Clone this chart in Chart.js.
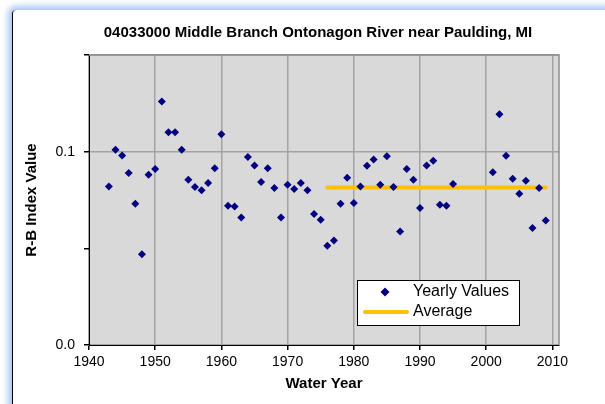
<!DOCTYPE html>
<html>
<head>
<meta charset="utf-8">
<script src="https://cdn.jsdelivr.net/npm/chart.js@4.4.1/dist/chart.umd.min.js"></script>
<style>
  html, body { margin: 0; padding: 0; background: #fff; overflow: hidden; }
  #frame {
    position: absolute; left: 12px; top: 10px; width: 640px; height: 440px;
    background: #fff; border-left: 1.5px solid #000; border-top-left-radius: 4px;
    box-shadow: 0 0 6px 4px #a9c6f3;
  }
  #wrap { position: absolute; left: 0; top: 0; width: 605px; height: 404px; }
</style>
</head>
<body>
<div id="frame"></div>
<div id="wrap"><canvas id="myChart" width="605" height="404"></canvas></div>
<script>
// yearly R-B index values
const years = [1943, 1944, 1945, 1946, 1947, 1948, 1949, 1950, 1951, 1952, 1953, 1954, 1955, 1956, 1957, 1958, 1959,
  1960, 1961, 1962, 1963, 1964, 1965, 1966, 1967, 1968, 1969, 1970, 1971, 1972, 1973, 1974, 1975, 1976, 1977, 1978,
  1979, 1980, 1981, 1982, 1983, 1984, 1985, 1986, 1987, 1988, 1989, 1990, 1991, 1992, 1993, 1994, 1995,
  2001, 2002, 2003, 2004, 2005, 2006, 2007, 2008, 2009];
const rbValues = [0.082, 0.101, 0.098, 0.089, 0.073, 0.047, 0.088, 0.091, 0.126, 0.110, 0.110, 0.101, 0.0855, 0.0817, 0.080, 0.0838, 0.0914,
  0.109, 0.072, 0.0717, 0.066, 0.0972, 0.0929, 0.0843, 0.0914, 0.0812, 0.066, 0.0829, 0.0807, 0.0838, 0.080, 0.0677, 0.0648, 0.0513, 0.054, 0.0731,
  0.0865, 0.0734, 0.082, 0.0927, 0.0959, 0.0829, 0.0976, 0.0817, 0.0587, 0.091, 0.0855, 0.0708, 0.0929, 0.0953, 0.0725, 0.072, 0.0833,
  0.0893, 0.1193, 0.0979, 0.086, 0.0782, 0.085, 0.0605, 0.0812, 0.0644];
const avgYears = [1976, 2009];
const avgValue = 0.0815;

const titleText = "04033000 Middle Branch Ontonagon River near Paulding, MI";
const seriesNames = ["Yearly Values", "Average"];
const xTicks = [1940, 1950, 1960, 1970, 1980, 1990, 2000, 2010];
const yTickLabels = { 0: "0.0", 0.1: "0.1" };

const FONT = "'Liberation Sans', Arial, sans-serif";
const NAVY = "#000080";
const GOLD = "#FFC000";
const GRID = "#a3a3a3";

const yearly = years.map((y, i) => ({ x: y, y: rbValues[i] }));
const average = avgYears.map((y) => ({ x: y, y: avgValue }));

// grey plot area, top/right frame, title and legend box
const decor = {
  id: "decor",
  beforeDraw(chart) {
    const { ctx, chartArea: a } = chart;
    ctx.save();
    ctx.fillStyle = "#d9d9d9";
    ctx.fillRect(a.left, a.top, a.right - a.left, a.bottom - a.top);
    ctx.restore();
  },
  afterDatasetsDraw(chart) {
    const { ctx, chartArea: a } = chart;
    ctx.save();
    ctx.strokeStyle = "#8c8c8c";
    ctx.lineWidth = 1.5;
    ctx.beginPath();
    ctx.moveTo(a.left, a.top);
    ctx.lineTo(a.right, a.top);
    ctx.lineTo(a.right, a.bottom);
    ctx.stroke();
    ctx.restore();
  },
  afterDraw(chart) {
    const ctx = chart.ctx;
    ctx.save();
    // title
    ctx.fillStyle = "#000";
    ctx.font = "bold 15px " + FONT;
    ctx.textAlign = "center";
    ctx.textBaseline = "middle";
    ctx.fillText(titleText, 318, 33);

    // legend
    const lx = 357, ly = 280, lw = 162, lh = 45;
    ctx.fillStyle = "#fff";
    ctx.fillRect(lx, ly, lw, lh);
    ctx.strokeStyle = "#000";
    ctx.lineWidth = 1;
    ctx.strokeRect(lx + 0.5, ly + 0.5, lw, lh);

    Chart.helpers.drawPoint(ctx, { pointStyle: "rectRot", radius: 4.5, borderWidth: 0 }, lx + 28, ly + 12);
    ctx.fillStyle = NAVY;
    ctx.fill();

    ctx.strokeStyle = GOLD;
    ctx.lineWidth = 4;
    ctx.lineCap = "round";
    ctx.beginPath();
    ctx.moveTo(lx + 8, ly + 32);
    ctx.lineTo(lx + 50, ly + 32);
    ctx.stroke();

    ctx.fillStyle = "#000";
    ctx.font = "16px " + FONT;
    ctx.textAlign = "left";
    ctx.fillText(seriesNames[0], lx + 56, ly + 12);
    ctx.fillText(seriesNames[1], lx + 56, ly + 32);
    ctx.restore();
  }
};

const config = {
  type: "scatter",
  data: {
    datasets: [
      {
        label: seriesNames[0],
        data: yearly,
        pointStyle: "rectRot",
        pointRadius: 4,
        pointBorderWidth: 0,
        backgroundColor: NAVY,
        borderColor: NAVY,
        order: 1
      },
      {
        label: seriesNames[1],
        data: average,
        showLine: true,
        pointRadius: 0,
        borderColor: GOLD,
        borderWidth: 4,
        borderCapStyle: "round",
        order: 2
      }
    ]
  },
  options: {
    responsive: false,
    animation: false,
    layout: { padding: { top: 55, right: 46, bottom: 8, left: 20 } },
    plugins: {
      legend: { display: false },
      title: { display: false },
      tooltip: { enabled: false }
    },
    scales: {
      x: {
        type: "linear",
        min: 1940,
        max: 2011,
        afterFit: (scale) => { scale.height = 51; },
        afterBuildTicks: (scale) => { scale.ticks = xTicks.map((v) => ({ value: v })); },
        ticks: {
          stepSize: 10,
          includeBounds: false,
          color: "#000",
          padding: 4,
          font: { family: FONT, size: 14 },
          maxRotation: 0,
          callback: (v) => String(v)
        },
        grid: { color: GRID, lineWidth: 1.5, tickColor: "#000", tickLength: 5 },
        border: { color: "#000", width: 1 },
        title: {
          display: true,
          text: "Water Year",
          color: "#000",
          font: { family: FONT, size: 15, weight: "bold" },
          padding: { top: 0, bottom: 3 }
        }
      },
      y: {
        min: 0,
        max: 0.15,
        afterFit: (scale) => { scale.width = 69; },
        ticks: {
          stepSize: 0.05,
          color: "#000",
          padding: 9,
          font: { family: FONT, size: 14 },
          callback: (v) => {
            if (Math.abs(v) < 1e-9) return yTickLabels[0];
            if (Math.abs(v - 0.1) < 1e-9) return yTickLabels[0.1];
            return "";
          }
        },
        grid: {
          color: (c) => (c.tick && Math.abs(c.tick.value - 0.05) < 1e-9 ? "rgba(0,0,0,0)" : GRID),
          lineWidth: 1.5,
          tickColor: "#000",
          tickLength: 5
        },
        border: { color: "#000", width: 1 },
        title: {
          display: true,
          text: "R-B Index Value",
          color: "#000",
          font: { family: FONT, size: 15, weight: "bold" },
          padding: { top: 3, bottom: 0 }
        }
      }
    }
  },
  plugins: [decor]
};

let ctx = document.getElementById("myChart");
let myChart = new Chart(ctx, config);
</script>
</body>
</html>
